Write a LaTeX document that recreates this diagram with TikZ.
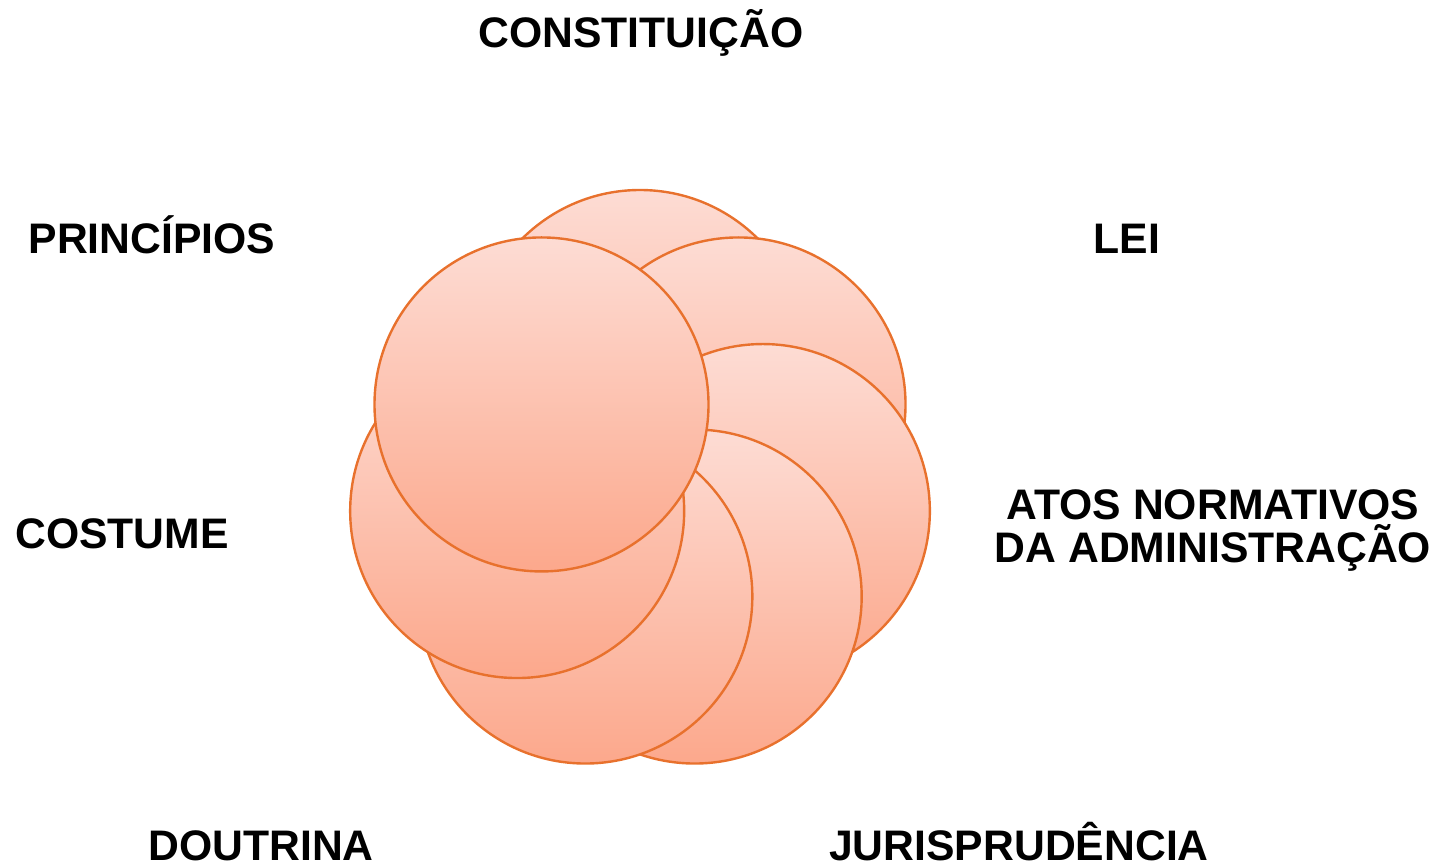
\documentclass[tikz,border=0pt]{standalone}
\usepackage{fontspec}
\setmainfont{Liberation Sans}
\usetikzlibrary{calc}
\definecolor{ringline}{RGB}{232,113,45}
\definecolor{filltop}{RGB}{253,220,212}
\definecolor{fillbot}{RGB}{252,168,140}
\tikzset{
  petal/.style={circle, inner sep=0pt, minimum size=334pt, draw=ringline, line width=2.4pt,
    top color=filltop, bottom color=fillbot},
  lbl/.style={font=\bfseries\fontsize{42.7}{43}\selectfont, text=black, inner sep=0pt, anchor=base, align=center}
}
\begin{document}
\begin{tikzpicture}[x=1pt,y=-1pt]
\useasboundingbox (0,0) rectangle (1439,864);
\coordinate (mid) at (640,483);
\foreach \i in {0,...,6}{
  \node[petal] (p\i) at ($(mid)+({90-\i*360/7}:126pt)$) {};
}
\node[lbl] (t0) at (641,48) {CONSTITUIÇÃO};
\node[lbl] (t1) at (1127,253) {LEI};
\node[lbl] (t2) at (1213,562) {ATOS NORMATIVOS\\DA ADMINISTRAÇÃO};
\node[lbl] (t3) at (1019,860) {JURISPRUDÊNCIA};
\node[lbl] (t4) at (261,860) {DOUTRINA};
\node[lbl] (t5) at (122,548) {COSTUME};
\node[lbl] (t6) at (152,253) {PRINCÍPIOS};
\end{tikzpicture}
\end{document}
